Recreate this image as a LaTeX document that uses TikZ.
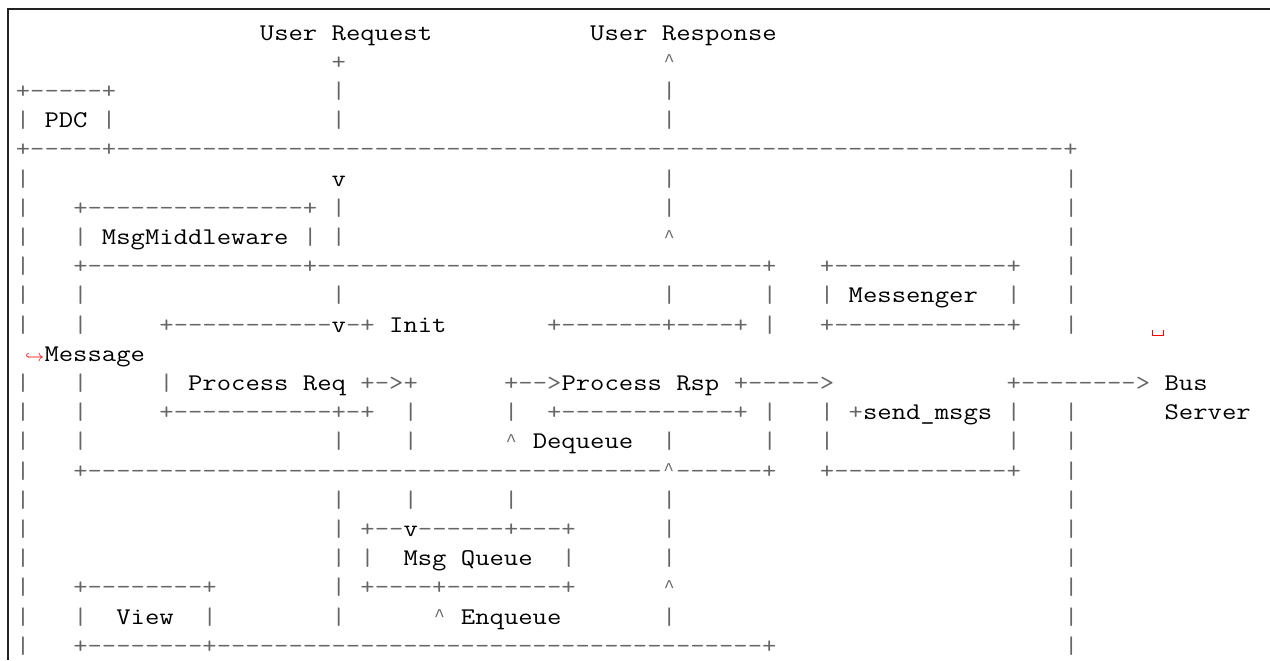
\documentclass[tikz,border=0pt]{standalone}
\usepackage{fontspec}
\setmonofont{lmmono12-regular.otf}[FakeStretch=1.164]
\newfontfamily\caretfont{Liberation Mono}
\usepackage{xcolor}
\definecolor{opgray}{HTML}{666666}
\definecolor{wrapred}{HTML}{FF0000}
\definecolor{framecol}{HTML}{222222}
\ExplSyntaxOn
\NewDocumentCommand\dsh{m}{\prg_replicate:nn{#1}{-}}
\ExplSyntaxOff
\newcommand\ca{\makebox[7.18pt][c]{\raisebox{1.2pt}{\caretfont\fontsize{9pt}{9pt}\selectfont\textasciicircum}}}
\newcommand\putc[5]{\node[#1] (#2) at ({15.82+14.36*(#3)},{40+29.2*((#4)-1)}) {#5};}
\begin{document}
\begin{tikzpicture}[x=0.5pt,y=-0.5pt,
  ascii/.style={anchor=base west,inner sep=0pt,outer sep=0pt,font=\ttfamily\fontsize{11.97pt}{14.6pt}\selectfont},
  op/.style={ascii,text=opgray},
  wd/.style={ascii,text=black},
  framestyle/.style={draw=framecol,line width=0.7pt}]
\useasboundingbox (0,0) rectangle (1270,660);
\draw[framestyle] (8,660) -- (8,9) -- (1270,9);
% row 1
\putc{wd}{ureq}{17}{1}{User Request}
\putc{wd}{uresp}{40}{1}{User Response}
% row 2
\putc{op}{r2a}{22}{2}{+}
\putc{op}{r2b}{45}{2}{\ca}
% row 3
\putc{op}{r3a}{0}{3}{+\dsh{5}+}
\putc{op}{r3b}{22}{3}{|}
\putc{op}{r3c}{45}{3}{|}
% row 4
\putc{op}{r4a}{0}{4}{|}
\putc{wd}{pdc}{2}{4}{PDC}
\putc{op}{r4b}{6}{4}{|}
\putc{op}{r4c}{22}{4}{|}
\putc{op}{r4d}{45}{4}{|}
% row 5
\putc{op}{r5a}{0}{5}{+\dsh{5}+\dsh{66}+}
% row 6
\putc{op}{r6a}{0}{6}{|}
\putc{wd}{r6b}{22}{6}{v}
\putc{op}{r6c}{45}{6}{|}
\putc{op}{r6d}{73}{6}{|}
% row 7
\putc{op}{r7a}{0}{7}{|}
\putc{op}{r7b}{4}{7}{+\dsh{15}+}
\putc{op}{r7c}{22}{7}{|}
\putc{op}{r7d}{45}{7}{|}
\putc{op}{r7e}{73}{7}{|}
% row 8
\putc{op}{r8a}{0}{8}{|}
\putc{op}{r8b}{4}{8}{|}
\putc{wd}{mw}{6}{8}{MsgMiddleware}
\putc{op}{r8c}{20}{8}{|}
\putc{op}{r8d}{22}{8}{|}
\putc{op}{r8e}{45}{8}{\ca}
\putc{op}{r8f}{73}{8}{|}
% row 9
\putc{op}{r9a}{0}{9}{|}
\putc{op}{r9b}{4}{9}{+\dsh{15}+\dsh{31}+}
\putc{op}{r9c}{56}{9}{+\dsh{12}+}
\putc{op}{r9d}{73}{9}{|}
% row 10
\putc{op}{r10a}{0}{10}{|}
\putc{op}{r10b}{4}{10}{|}
\putc{op}{r10c}{22}{10}{|}
\putc{op}{r10d}{45}{10}{|}
\putc{op}{r10e}{52}{10}{|}
\putc{op}{r10f}{56}{10}{|}
\putc{wd}{msgr}{58}{10}{Messenger}
\putc{op}{r10g}{69}{10}{|}
\putc{op}{r10h}{73}{10}{|}
% row 11
\putc{op}{r11a}{0}{11}{|}
\putc{op}{r11b}{4}{11}{|}
\putc{op}{r11c}{10}{11}{+\dsh{11}}
\putc{wd}{r11d}{22}{11}{v}
\putc{op}{r11e}{23}{11}{-+}
\putc{wd}{init}{26}{11}{Init}
\putc{op}{r11f}{37}{11}{+\dsh{7}+\dsh{4}+}
\putc{op}{r11g}{52}{11}{|}
\putc{op}{r11h}{56}{11}{+\dsh{12}+}
\putc{op}{r11i}{73}{11}{|}
\draw[wrapred,line width=0.5pt] (1152.5,330) -- (1152.5,335) -- (1163,335) -- (1163,330);
% row 12
\putc{wd}{message}{2}{12}{Message}
\node[anchor=base east,inner sep=0pt,text=wrapred] (cont) at (message.base west) {\fontsize{8pt}{8pt}\selectfont$\hookrightarrow$};
% row 13
\putc{op}{r13a}{0}{13}{|}
\putc{op}{r13b}{4}{13}{|}
\putc{op}{r13c}{10}{13}{|}
\putc{wd}{preq}{12}{13}{Process Req}
\putc{op}{r13d}{24}{13}{+->+}
\putc{op}{r13e}{34}{13}{+-->}
\putc{wd}{prsp}{38}{13}{Process Rsp}
\putc{op}{r13f}{50}{13}{+\dsh{5}>}
\putc{op}{r13g}{69}{13}{+\dsh{8}>}
\putc{wd}{bus}{80}{13}{Bus}
% row 14
\putc{op}{r14a}{0}{14}{|}
\putc{op}{r14b}{4}{14}{|}
\putc{op}{r14c}{10}{14}{+\dsh{11}+-+}
\putc{op}{r14d}{27}{14}{|}
\putc{op}{r14e}{34}{14}{|}
\putc{op}{r14f}{37}{14}{+\dsh{12}+}
\putc{op}{r14g}{52}{14}{|}
\putc{op}{r14h}{56}{14}{|}
\putc{op}{r14i}{58}{14}{+}
\putc{wd}{send}{59}{14}{send\_msgs}
\putc{op}{r14j}{69}{14}{|}
\putc{op}{r14k}{73}{14}{|}
\putc{wd}{server}{80}{14}{Server}
% row 15
\putc{op}{r15a}{0}{15}{|}
\putc{op}{r15b}{4}{15}{|}
\putc{op}{r15c}{22}{15}{|}
\putc{op}{r15d}{27}{15}{|}
\putc{op}{r15e}{34}{15}{\ca}
\putc{wd}{deq}{36}{15}{Dequeue}
\putc{op}{r15f}{45}{15}{|}
\putc{op}{r15g}{52}{15}{|}
\putc{op}{r15h}{56}{15}{|}
\putc{op}{r15i}{69}{15}{|}
\putc{op}{r15j}{73}{15}{|}
% row 16
\putc{op}{r16a}{0}{16}{|}
\putc{op}{r16b}{4}{16}{+\dsh{40}\ca\dsh{6}+}
\putc{op}{r16c}{56}{16}{+\dsh{12}+}
\putc{op}{r16d}{73}{16}{|}
% row 17
\putc{op}{r17a}{0}{17}{|}
\putc{op}{r17b}{22}{17}{|}
\putc{op}{r17c}{27}{17}{|}
\putc{op}{r17d}{34}{17}{|}
\putc{op}{r17e}{45}{17}{|}
\putc{op}{r17f}{73}{17}{|}
% row 18
\putc{op}{r18a}{0}{18}{|}
\putc{op}{r18b}{22}{18}{|}
\putc{op}{r18c}{24}{18}{+--}
\putc{wd}{r18d}{27}{18}{v}
\putc{op}{r18e}{28}{18}{\dsh{6}+\dsh{3}+}
\putc{op}{r18f}{45}{18}{|}
\putc{op}{r18g}{73}{18}{|}
% row 19
\putc{op}{r19a}{0}{19}{|}
\putc{op}{r19b}{22}{19}{|}
\putc{op}{r19c}{24}{19}{|}
\putc{wd}{mq}{27}{19}{Msg Queue}
\putc{op}{r19d}{38}{19}{|}
\putc{op}{r19e}{45}{19}{|}
\putc{op}{r19f}{73}{19}{|}
% row 20
\putc{op}{r20a}{0}{20}{|}
\putc{op}{r20b}{4}{20}{+\dsh{8}+}
\putc{op}{r20c}{22}{20}{|}
\putc{op}{r20d}{24}{20}{+\dsh{4}+\dsh{8}+}
\putc{op}{r20e}{45}{20}{\ca}
\putc{op}{r20f}{73}{20}{|}
% row 21
\putc{op}{r21a}{0}{21}{|}
\putc{op}{r21b}{4}{21}{|}
\putc{wd}{view}{7}{21}{View}
\putc{op}{r21c}{13}{21}{|}
\putc{op}{r21d}{22}{21}{|}
\putc{op}{r21e}{29}{21}{\ca}
\putc{wd}{enq}{31}{21}{Enqueue}
\putc{op}{r21f}{45}{21}{|}
\putc{op}{r21g}{73}{21}{|}
% row 22
\putc{op}{r22a}{0}{22}{|}
\putc{op}{r22b}{4}{22}{+\dsh{8}+\dsh{38}+}
\putc{op}{r22c}{73}{22}{|}
\end{tikzpicture}
\end{document}
